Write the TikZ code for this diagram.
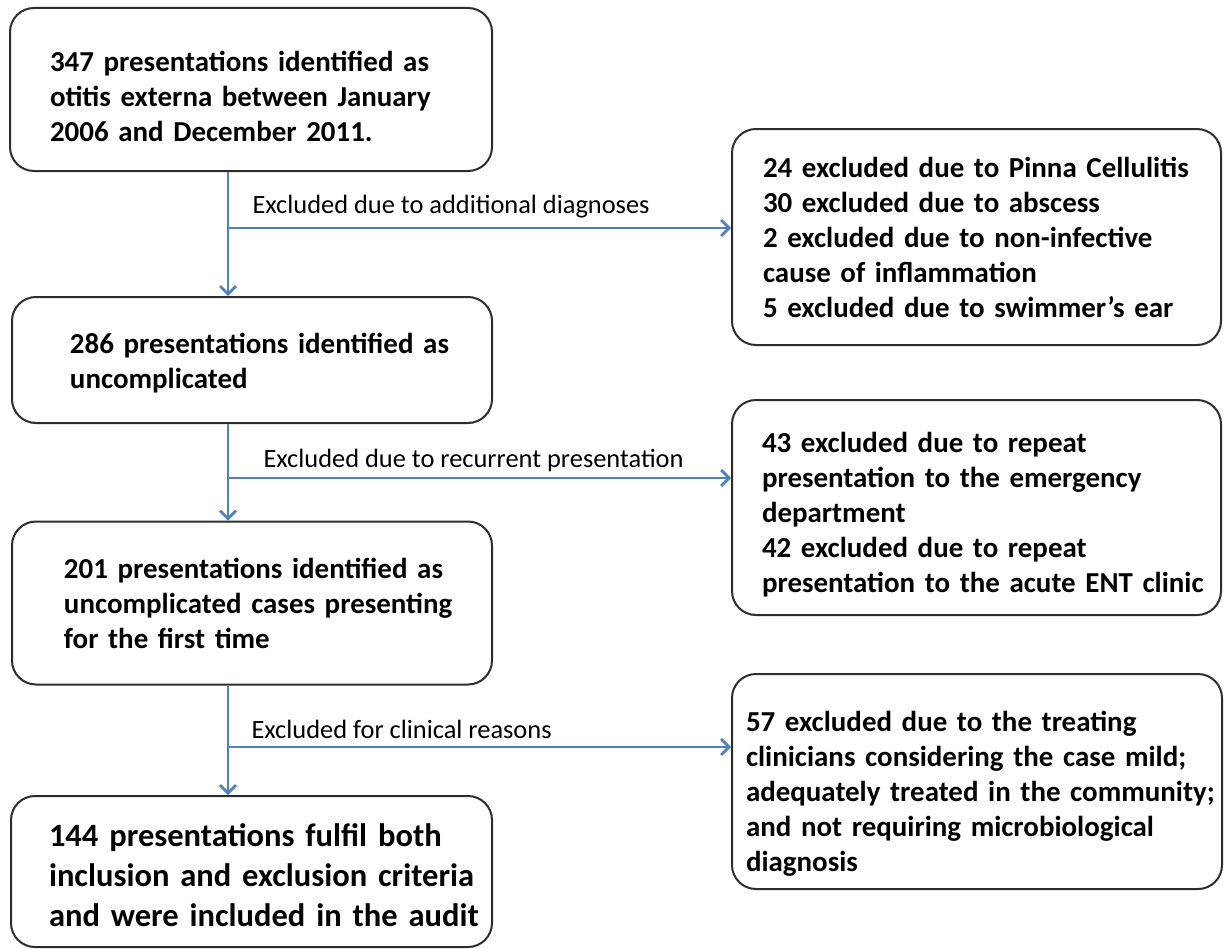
\documentclass[tikz,border=0pt]{standalone}
\usepackage{fontspec}
\setmainfont{Carlito}
\usetikzlibrary{arrows.meta}

\definecolor{flowblue}{RGB}{79,129,189}
\definecolor{boxgray}{RGB}{45,45,45}

\tikzset{every picture/.style={line width=0.75pt}}
\tikzset{
  flowbox/.style n args={3}{draw=boxgray, line width=1.5pt, rounded corners=18pt,
    text width=#1, minimum height=#2, inner xsep=0pt, inner ysep=0pt,
    execute at begin node={\leftskip=#3\relax},
    font=\fontsize{21.7}{26.25}\selectfont\bfseries},
  textdrop/.style={execute at begin node={\rule{0pt}{#1}}},
  flowline/.style={draw=flowblue, line width=2pt,
    -{Straight Barb[length=6pt,width=12pt,line width=2pt]}},
  branchlabel/.style={anchor=west, inner sep=0pt, font=\fontsize{19.8}{23}\selectfont}
}

\begin{document}
\begin{tikzpicture}[x=0.75pt,y=0.75pt,yscale=-1]
\useasboundingbox (0,0) rectangle (1224,949);

%Flowchart: Process
\node [flowbox={361.5pt}{122.25pt}{30pt}, textdrop=25.7pt] (A) at (251,89.5)
  {347 presentations identified as\\otitis externa between January\\2006 and December 2011.};
%Flowchart: Process
\node [flowbox={360pt}{94.5pt}{43.5pt}, textdrop=20.4pt] (C) at (252,360)
  {286 presentations identified as\\uncomplicated};
%Flowchart: Process
\node [flowbox={360pt}{122.25pt}{39pt}] (E) at (252,603)
  {201 presentations identified as\\uncomplicated cases presenting\\for the first time};
%Flowchart: Process
\node [flowbox={360.75pt}{113.25pt}{28.5pt}, textdrop=23.1pt, font=\fontsize{24.4}{30}\selectfont\bfseries] (G) at (251.5,871.5)
  {144 presentations fulfil both\\inclusion and exclusion criteria\\and were included in the audit};

%Flowchart: Process
\node [flowbox={366.75pt}{162pt}{23.25pt}] (B) at (976.5,237)
  {24 excluded due to Pinna Cellulitis\\30 excluded due to abscess\\2 excluded due to non-infective\\cause of inflammation\\5 excluded due to swimmer’s ear};
%Flowchart: Process
\node [flowbox={366.75pt}{161.25pt}{22.5pt}, textdrop=25.7pt] (D) at (976.5,507.5)
  {43 excluded due to repeat\\presentation to the emergency\\department\\42 excluded due to repeat\\presentation to the acute ENT clinic};
%Flowchart: Process
\node [flowbox={367.5pt}{161.25pt}{10.5pt}, textdrop=33.2pt] (F) at (977,781.5)
  {57 excluded due to the treating\\clinicians considering the case mild;\\adequately treated in the community;\\and not requiring microbiological\\diagnosis};

%Straight Lines
\coordinate (trunk) at (228,0);
\draw [flowline] (A.south -| trunk) -- (C.north -| trunk);
\draw [flowline] (C.south -| trunk) -- (E.north -| trunk);
\draw [flowline] (E.south -| trunk) -- (G.north -| trunk);
%Straight Lines
\coordinate (split1) at (228,228);
\coordinate (split2) at (228,478);
\coordinate (split3) at (228,747);
\draw [flowline] (split1) -- (split1 -| B.west);
\draw [flowline] (split2) -- (split2 -| D.west);
\draw [flowline] (split3) -- (split3 -| F.west);

% Text Node
\node [branchlabel] (why1) at (252,207) {Excluded due to additional diagnoses};
% Text Node
\node [branchlabel] (why2) at (263,460) {Excluded due to recurrent presentation};
% Text Node
\node [branchlabel] (why3) at (251,729) {Excluded for clinical reasons};

\end{tikzpicture}
\end{document}
